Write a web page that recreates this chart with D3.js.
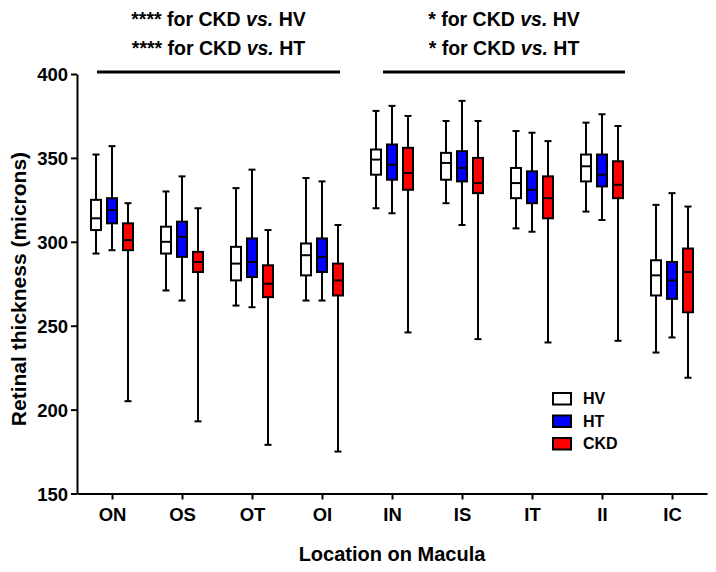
<!DOCTYPE html>
<html>
<head>
<meta charset="utf-8">
<script src="https://cdn.jsdelivr.net/npm/d3@7"></script>
<style>
  html, body { margin: 0; padding: 0; background: #fff; }
  svg { display: block; font-family: "Liberation Sans", Arial, Helvetica, sans-serif; font-weight: bold; }
</style>
</head>
<body>
<svg id="chart" width="716" height="572"></svg>
<script>
// ---- data ----
const categories = ["ON", "OS", "OT", "OI", "IN", "IS", "IT", "II", "IC"];
const seriesNames = ["HV", "HT", "CKD"];
const seriesColors = ["#ffffff", "#0000ff", "#ff0000"];
// each entry: [min, q1, median, q3, max]
const hv = [
  [293, 307, 314, 325, 352],
  [271, 293, 300, 309, 330],
  [262, 277, 287, 297, 332],
  [265, 280, 292, 299, 338],
  [320, 340, 349, 355, 378],
  [323, 337, 347, 353, 372],
  [308, 326, 335, 344, 366],
  [318, 336, 345, 352, 371],
  [234, 268, 280, 289, 322]
];
const ht = [
  [295, 311, 319, 326, 357],
  [265, 291, 303, 312, 339],
  [261, 279, 288, 302, 343],
  [265, 282, 291, 302, 336],
  [317, 337, 346, 358, 381],
  [310, 336, 344, 354, 384],
  [306, 323, 331, 342, 365],
  [313, 333, 340, 352, 376],
  [243, 266, 277, 288, 329]
];
const ckd = [
  [205, 295, 301, 311, 323],
  [193, 282, 288, 294, 320],
  [179, 267, 275, 286, 307],
  [175, 268, 277, 287, 310],
  [246, 331, 341, 356, 375],
  [242, 329, 335, 350, 372],
  [240, 314, 326, 339, 360],
  [241, 326, 334, 348, 369],
  [219, 258, 282, 296, 321]
];
const yTicks = [150, 200, 250, 300, 350, 400];
const yDomain = [150, 400];
const annotations = [
  { from: "ON", to: "OI", lines: [["****", "HV"], ["****", "HT"]] },
  { from: "IN", to: "II", lines: [["*", "HV"], ["*", "HT"]] }
];
const yTitle = "Retinal thickness (microns)";
const xTitle = "Location on Macula";

// ---- layout ----
const svg = d3.select("#chart");
const mLeft = 77, mRight = 707, mTop = 74, mBottom = 493.5;
const annotationPad = [[-15, 18], [-9, 23]];

const x = d3.scalePoint().domain(categories).range([mLeft, mRight]).padding(0.5);
const y = d3.scaleLinear().domain(yDomain).range([mBottom, mTop]);
const off = d3.scalePoint().domain(seriesNames).range([-16, 16]);

const allSeries = [hv, ht, ckd];
const boxW = 10, capW = 7;

// boxes
allSeries.forEach((series, si) => {
  const name = seriesNames[si];
  const g = svg.append("g").attr("class", "series-" + name);
  series.forEach((d, ci) => {
    const cx = x(categories[ci]) + off(name);
    const [mn, q1, md, q3, mx] = d;
    g.append("line").attr("x1", cx).attr("x2", cx).attr("y1", y(mx)).attr("y2", y(q3))
      .attr("stroke", "#000").attr("stroke-width", 2);
    g.append("line").attr("x1", cx).attr("x2", cx).attr("y1", y(q1)).attr("y2", y(mn))
      .attr("stroke", "#000").attr("stroke-width", 2);
    [mn, mx].forEach(v => {
      g.append("line").attr("x1", cx - capW / 2).attr("x2", cx + capW / 2)
        .attr("y1", y(v)).attr("y2", y(v)).attr("stroke", "#000").attr("stroke-width", 2);
    });
    g.append("rect").attr("x", cx - boxW / 2).attr("y", y(q3))
      .attr("width", boxW).attr("height", y(q1) - y(q3))
      .attr("fill", seriesColors[si]).attr("stroke", "#000").attr("stroke-width", 2);
    g.append("line").attr("x1", cx - boxW / 2).attr("x2", cx + boxW / 2)
      .attr("y1", y(md)).attr("y2", y(md)).attr("stroke", "#000").attr("stroke-width", 2);
  });
});

// axes
const yAxis = svg.append("g").attr("transform", `translate(${mLeft},0)`)
  .call(d3.axisLeft(y).tickValues(yTicks).tickSize(6).tickSizeOuter(0).tickPadding(3));
const xAxis = svg.append("g").attr("transform", `translate(0,${mBottom})`)
  .call(d3.axisBottom(x).tickSize(6).tickSizeOuter(0).tickPadding(4));
[yAxis, xAxis].forEach(a => {
  a.selectAll("path, line").attr("stroke", "#000").attr("stroke-width", 2);
  a.selectAll("text").attr("fill", "#000").style("font-size", "18.5px")
    .style("font-family", "'Liberation Sans', Arial, sans-serif").style("font-weight", "bold");
});
xAxis.selectAll("text").attr("dy", "0.95em");
yAxis.selectAll("text").attr("dy", "0.36em");

// axis titles
svg.append("text").attr("transform", `translate(26,289) rotate(-90)`)
  .attr("text-anchor", "middle").style("font-size", "21px").text(yTitle);
svg.append("text").attr("x", (mLeft + mRight) / 2).attr("y", 561)
  .attr("text-anchor", "middle").style("font-size", "20px").text(xTitle);

// significance annotations
annotations.forEach((a, ai) => {
  const x1 = x(a.from) + annotationPad[ai][0], x2 = x(a.to) + annotationPad[ai][1];
  svg.append("line").attr("x1", x1).attr("x2", x2).attr("y1", 72).attr("y2", 72)
    .attr("stroke", "#000").attr("stroke-width", 3);
  const cx = (x1 + x2) / 2;
  a.lines.forEach((ln, i) => {
    const t = svg.append("text").attr("x", cx).attr("y", 26 + i * 29)
      .attr("text-anchor", "middle").style("font-size", "19.5px");
    t.append("tspan").text(ln[0] + " for CKD ");
    t.append("tspan").style("font-style", "italic").text("vs.");
    t.append("tspan").text(" " + ln[1]);
  });
});

// legend
const legend = svg.append("g").attr("transform", "translate(552,392)");
seriesNames.forEach((n, i) => {
  const g = legend.append("g").attr("transform", `translate(0,${i * 22.5})`);
  g.append("rect").attr("x", 1).attr("y", 1).attr("width", 18).attr("height", 11.5)
    .attr("fill", seriesColors[i]).attr("stroke", "#000").attr("stroke-width", 2);
  g.append("text").attr("x", 31).attr("y", 6.5).attr("dy", "0.36em")
    .style("font-size", "16px").text(n);
});
</script>
</body>
</html>
